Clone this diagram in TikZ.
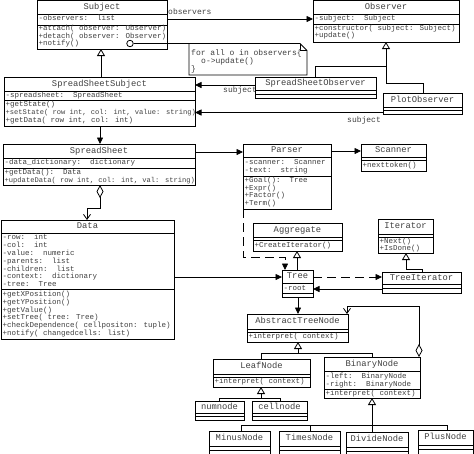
\documentclass[tikz,border=0pt]{standalone}
\usepackage{fontspec}
\newfontfamily\umlfont{Liberation Mono}
\usetikzlibrary{arrows.meta}
\newcounter{umlm}
\newcommand\umlcls[8]{%
  \node[clsbox, minimum width={(#3)-(#2)}, minimum height={(#7)-(#4)}, anchor=north west] (#1) at (#2,#4) {};
  \draw[sepline] (#2,#5) -- (#3,#5);
  \draw[sepline] (#2,#6) -- (#3,#6);
  \node[ttl] (#1-title) at ({(#2+#3)/2},{(#4+#5)/2}) {#8};
}
\newcommand\mline[3]{\stepcounter{umlm}\node[mem] (ml\theumlm) at (#1,#2) {#3};}
\newcommand\mlinesm[3]{\stepcounter{umlm}\node[mem, font=\umlfont\fontsize{7.1}{8}\selectfont] (ml\theumlm) at (#1,#2) {#3};}
\begin{document}
\begin{tikzpicture}[x=1pt,y=-1pt,
  clsbox/.style={draw, fill=white, rectangle, inner sep=0pt, outer sep=0pt, line width=0.9pt},
  sepline/.style={line width=0.8pt},
  ttl/.style={font=\umlfont\fontsize{8.8}{10}\selectfont, inner sep=0pt, text height=6.2pt, text depth=1.8pt, text=black!75},
  mem/.style={font=\umlfont\fontsize{7.5}{8}\selectfont, inner sep=0pt, anchor=west, text height=5pt, text depth=1.5pt, text=black!75},
  notetxt/.style={font=\umlfont\fontsize{8}{9}\selectfont, inner sep=0pt, anchor=west, text height=5.5pt, text depth=1.5pt, text=black!75},
  lbl/.style={notetxt},
  conn/.style={line width=0.8pt},
  assoc/.style={conn, -{Triangle[length=6.5pt,width=6pt]}},
  inh/.style={conn, -{Triangle[length=7pt,width=8pt,fill=white,line width=0.8pt]}},
  dep/.style={assoc, dash pattern=on 9pt off 5pt},
  aggrel/.style={conn, {Diamond[length=13pt,width=7pt,fill=white,line width=0.8pt]}-{Straight Barb[length=5pt,width=7pt,line width=0.8pt]}},
]
\useasboundingbox (0,0) rectangle (474,453);

% labels
\node[lbl] (lobs) at (168,12) {observers};
\node[lbl] (lsub1) at (223,90.5) {subject};
\node[lbl] (lsub2) at (347,120) {subject};

% note
\node[inner sep=0pt, outer sep=0pt, minimum width=118pt, minimum height=31.5pt, anchor=north west] (note) at (189,43.5) {};
\draw[line width=0.8pt, fill=white] (note.north west) -- ([xshift=-7pt]note.north east) -- ([yshift=-7pt]note.north east) -- (note.south east) -- (note.south west) -- cycle;
\draw[line width=0.6pt] ([xshift=-7pt]note.north east) |- ([yshift=-7pt]note.north east);
\node[notetxt] (n1) at (191,53) {for all o in observers\{};
\node[notetxt] (n2) at (201,61) {o->update()};
\node[notetxt] (n3) at (191,69) {\}};

% classes
\umlcls{subject}{37}{167}{0.5}{14}{25}{49}{Subject}
\mline{38.5}{19}{-observers:\ \ list}
\mline{38.5}{29}{+attach( observer: Observer)}
\mline{38.5}{36.5}{+detach( observer: Observer)}
\mline{38.5}{43.5}{+notify()}

\umlcls{observer}{313}{459}{0.5}{14}{24}{42}{Observer}
\mline{314.5}{19}{-subject:\ \ Subject}
\mline{314.5}{28.5}{+constructor( subject: Subject)}
\mline{314.5}{36}{+update()}

\umlcls{sss}{4}{195}{77}{91}{100}{126}{SpreadSheetSubject}
\mline{5.5}{96}{-spreadsheet:\ \ SpreadSheet}
\mline{5.5}{104.5}{+getState()}
\mlinesm{5.5}{113}{+setState( row int, col: int, value: string)}
\mline{5.5}{121}{+getData( row int, col: int)}

\umlcls{sso}{255}{376}{77}{90.5}{94}{98}{SpreadSheetObserver}
\umlcls{plot}{383}{462}{93}{107}{110.5}{114.5}{PlotObserver}

\umlcls{ss}{3}{195}{144}{158}{168}{185}{SpreadSheet}
\mline{4.5}{163}{-data\_dictionary:\ \ dictionary}
\mline{4.5}{173}{+getData():\ \ Data}
\mlinesm{4.5}{181}{+updateData( row int, col: int, val: string)}

\umlcls{parser}{243}{331}{144}{157}{176}{209}{Parser}
\mline{244.5}{162.5}{-scanner:\ \ Scanner}
\mline{244.5}{170.5}{-text:\ \ string}
\mline{244.5}{181}{+Goal():\ \ Tree}
\mline{244.5}{188.5}{+Expr()}
\mline{244.5}{196}{+Factor()}
\mline{244.5}{203.5}{+Term()}

\umlcls{scanner}{361}{426}{144}{157}{160.5}{171}{Scanner}
\mline{362.5}{166}{+nexttoken()}

\umlcls{aggr}{253}{342}{223}{237}{240.5}{251}{Aggregate}
\mline{254.5}{246}{+CreateIterator()}

\umlcls{iter}{378}{433}{219}{234}{237.5}{253}{Iterator}
\mline{379.5}{241.5}{+Next()}
\mline{379.5}{249}{+IsDone()}

\umlcls{tree}{282}{313}{270}{283}{293.5}{297.5}{Tree}
\mline{283.5}{288.5}{-root}

\umlcls{ti}{382}{461}{272}{284}{288}{293}{TreeIterator}

\umlcls{data}{1}{174}{220}{233}{289}{339}{Data}
\mline{2.5}{238}{-row:\ \ int}
\mline{2.5}{246}{-col:\ \ int}
\mline{2.5}{254}{-value:\ \ numeric}
\mline{2.5}{262}{-parents:\ \ list}
\mline{2.5}{269.5}{-children:\ \ list}
\mline{2.5}{277}{-context:\ \ dictionary}
\mline{2.5}{285}{-tree:\ \ Tree}
\mline{2.5}{295}{+getXPosition()}
\mline{2.5}{303}{+getYPosition()}
\mline{2.5}{310.5}{+getValue()}
\mline{2.5}{318}{+setTree( tree: Tree)}
\mline{2.5}{326}{+checkDependence( cellpositon: tuple)}
\mline{2.5}{333.5}{+notify( changedcells: list)}

\umlcls{atn}{247}{348}{314}{329}{332.5}{342}{AbstractTreeNode}
\mline{248.5}{337}{+interpret( context)}

\umlcls{leaf}{213}{310}{359}{374}{377.5}{387}{LeafNode}
\mline{214.5}{382}{+interpret( context)}

\umlcls{bn}{324}{420}{357}{371}{389}{398}{BinaryNode}
\mline{325.5}{376.5}{-left:\ \ BinaryNode}
\mline{325.5}{384.5}{-right:\ \ BinaryNode}
\mline{325.5}{394}{+interpret( context)}

\umlcls{num}{195}{244}{401}{413}{416.5}{420}{numnode}
\umlcls{cell}{252}{307}{401}{413}{416.5}{420}{cellnode}

\umlcls{minus}{209}{270}{431}{446}{450}{458}{MinusNode}
\umlcls{times}{279}{340}{431}{446}{450}{458}{TimesNode}
\umlcls{divide}{346}{408}{432}{447}{451}{458}{DivideNode}
\umlcls{plus}{418}{473}{430}{445}{449}{458}{PlusNode}

% connectors
\node[circle, draw, fill=white, line width=0.8pt, inner sep=0pt, minimum size=6.5pt] (notifyc) at (130,43.5) {};
\draw[conn] (notifyc.east) -- (note.north west);
\draw[assoc] (subject.east |- 0,19) -- (observer.west |- 0,19);
\draw[inh] (sss.north -| 101,0) -- (subject.south -| 101,0);
\draw[inh] (sso.north -| 315,0) |- (386,66) -- (observer.south -| 386,0);
\draw[conn] (plot.north -| 423,0) |- (386,83) -- (386,66);
\draw[assoc] (sso.west |- 0,85) -- (sss.east |- 0,85);
\draw[assoc] (plot.west |- 0,112.5) -- (sss.east |- 0,112.5);
\draw[assoc] (sss.south -| 100,0) -- (ss.north -| 100,0);
\draw[aggrel] (ss.south -| 100,0) -- (100,208) -| (data.north -| 87,0);
\draw[assoc] (ss.east |- 0,152) -- (parser.west |- 0,152);
\draw[assoc] (parser.east |- 0,151) -- (scanner.west |- 0,151);
\draw[dep] (parser.south west) |- (285,257) -- (tree.north -| 285,0);
\draw[inh] (tree.north -| 297,0) -- (aggr.south -| 297,0);
\draw[inh] (ti.north -| 422,0) |- (406,269) -- (iter.south -| 406,0);
\draw[dep] (tree.east |- 0,277) -- (ti.west |- 0,277);
\draw[assoc] (ti.west |- 0,289) -- (tree.east |- 0,289);
\draw[assoc] (data.east |- 0,277) -- (tree.west |- 0,277);
\draw[assoc] (tree.south -| 298,0) -- (atn.north -| 298,0);
\draw[aggrel] (bn.north -| 419,0) -- (419,306) -| (atn.north -| 347,0);
\draw[inh] (leaf.north -| 261,0) |- (298,353) -- (atn.south -| 298,0);
\draw[conn] (bn.north -| 372,0) |- (298,353);
\draw[inh] (num.north -| 219,0) |- (261,398) -- (leaf.south -| 261,0);
\draw[conn] (cell.north -| 280,0) |- (261,398);
\draw[inh] (divide.north -| 372,0) -- (bn.south -| 372,0);
\draw[conn] (minus.north -| 241,0) |- (447,425) -- (plus.north -| 447,0);
\draw[conn] (times.north -| 310,0) -- (310,425);
\end{tikzpicture}
\end{document}
